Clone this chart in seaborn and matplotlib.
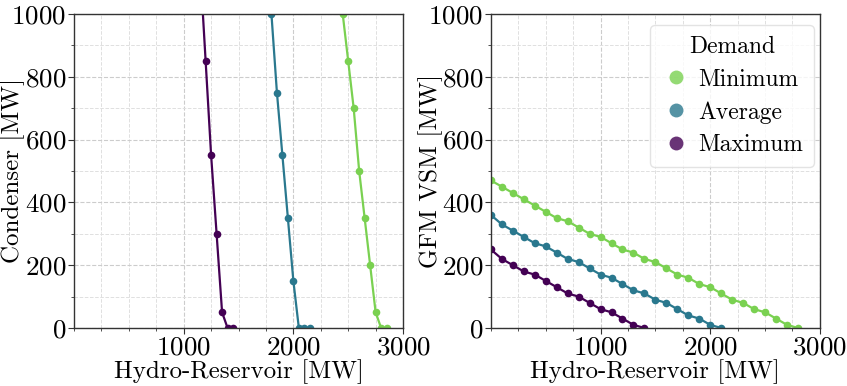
import pandas as pd
import numpy as np
import matplotlib
matplotlib.use("Agg")
import matplotlib.pyplot as plt
import seaborn as sns
from matplotlib.ticker import MultipleLocator, FixedLocator

# === Data ===
demand_order = ["Minimum", "Average", "Maximum"]
palette = {"Minimum": "#7ad151", "Average": "#2a788e", "Maximum": "#440154"}

# Left panel: condenser vs hydro-reservoir
cond_min_hydro = [2450, 2500, 2550, 2600, 2650, 2700, 2750, 2800, 2850]
cond_min_mw = [1000, 850, 700, 500, 350, 200, 50, 0, 0]
cond_avg_hydro = [1750, 1800, 1850, 1900, 1950, 2000, 2050, 2100, 2150]
cond_avg_mw = [1250, 1000, 750, 550, 350, 150, 0, 0, 0]
cond_max_hydro = [1150, 1200, 1250, 1300, 1350, 1400, 1450]
cond_max_mw = [1150, 850, 550, 300, 50, 0, 0]

# Right panel: GFM VSM vs hydro-reservoir (100 MW steps)
vsm_min_mw = [470, 450, 430, 410, 390, 370, 350, 340, 320, 300, 290, 270, 250, 240, 220,
              210, 190, 170, 160, 140, 130, 110, 90, 80, 60, 50, 30, 10, 0]
vsm_avg_mw = [360, 330, 310, 290, 270, 260, 240, 220, 210, 190, 170, 160, 140, 120, 110,
              90, 80, 60, 40, 30, 10, 0]
vsm_max_mw = [250, 220, 200, 180, 170, 150, 130, 110, 100, 80, 60, 50, 30, 10, 0]


def make_df(xs, ys, labels):
    frames = []
    for x, y, lab in zip(xs, ys, labels):
        frames.append(pd.DataFrame({"Hydro": x, "MW": y, "Demand": lab}))
    return pd.concat(frames, ignore_index=True)


cond_df = make_df([cond_min_hydro, cond_avg_hydro, cond_max_hydro],
                  [cond_min_mw, cond_avg_mw, cond_max_mw], demand_order)
vsm_df = make_df([list(range(0, 100 * len(vsm_min_mw), 100)),
                  list(range(0, 100 * len(vsm_avg_mw), 100)),
                  list(range(0, 100 * len(vsm_max_mw), 100))],
                 [vsm_min_mw, vsm_avg_mw, vsm_max_mw], demand_order)

# === Style ===
sns.set_style("ticks")
plt.rcParams["font.family"] = ["cmr10", "DejaVu Serif"]
plt.rcParams["axes.formatter.use_mathtext"] = True
plt.rcParams["mathtext.fontset"] = "cm"
plt.rcParams["text.color"] = "black"
plt.rcParams["axes.labelcolor"] = "black"
plt.rcParams["xtick.color"] = "#333333"
plt.rcParams["ytick.color"] = "#333333"
plt.rcParams["xtick.labelcolor"] = "black"
plt.rcParams["ytick.labelcolor"] = "black"

fig, axes = plt.subplots(1, 2, figsize=(8.47, 3.86), dpi=100)
fig.subplots_adjust(left=0.0874, right=0.968, top=0.9637, bottom=0.1503, wspace=0.267)

panels = [(axes[0], cond_df, "Condenser [MW]", -0.150),
          (axes[1], vsm_df, "GFM VSM [MW]", -0.145)]
for ax, df, ylab, ylab_x in panels:
    sns.lineplot(data=df, x="Hydro", y="MW", hue="Demand", hue_order=demand_order,
                 palette=palette, marker="o", markersize=5.5, markeredgewidth=0,
                 linewidth=1.6, estimator=None, sort=True, ax=ax, legend=(ax is axes[1]))
    ax.set_xlim(0, 3000)
    ax.set_ylim(0, 1000)
    ax.xaxis.set_major_locator(FixedLocator([1000, 2000, 3000]))
    ax.xaxis.set_minor_locator(MultipleLocator(250))
    ax.yaxis.set_major_locator(MultipleLocator(200))
    ax.yaxis.set_minor_locator(MultipleLocator(100))
    ax.grid(True, which="major", linestyle="--", color="#cccccc", linewidth=0.8)
    ax.grid(True, which="minor", linestyle="--", color="#e0e0e0", linewidth=0.7)
    ax.set_axisbelow(True)
    ax.tick_params(which="major", direction="out", length=4, width=0.8, labelsize=19.5, pad=1.5)
    ax.tick_params(which="minor", direction="out", length=2, width=0.6)
    for sp in ax.spines.values():
        sp.set_color("#333333")
        sp.set_linewidth(1.0)
    ax.set_xlabel("Hydro-Reservoir [MW]", fontsize=18, labelpad=0)
    ax.set_ylabel(ylab, fontsize=18)
    ax.yaxis.set_label_coords(ylab_x, 0.5)

# === Legend ===
leg = axes[1].legend(title="Demand", loc="upper right", bbox_to_anchor=(1 - 6 / 329, 1 - 11 / 314),
                     borderaxespad=0, fontsize=17, title_fontsize=17,
                     frameon=True, framealpha=0.8, handlelength=1.3, handletextpad=0.3,
                     borderpad=0.45, labelspacing=0.45)
for h in leg.legend_handles:
    h.set_linestyle("")
    h.set_marker("o")
    h.set_markersize(10)
    h.set_alpha(0.8)
leg.get_frame().set_edgecolor("#dddddd")

plt.savefig("out.png", dpi=100)
